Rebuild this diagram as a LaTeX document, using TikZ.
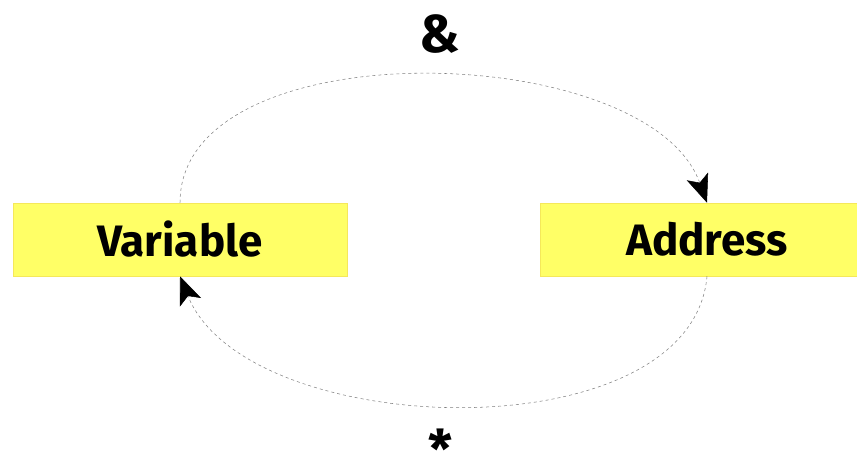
\documentclass[tikz,border=0pt]{standalone}
\usepackage{fontspec}
\setmainfont{Fira Sans}
\usetikzlibrary{arrows.meta}
\definecolor{boxyellow}{HTML}{FFFF66}
\definecolor{boxedge}{HTML}{F5E85A}
\begin{document}
\begin{tikzpicture}[x=0.75pt, y=0.75pt,
    box/.style={fill=boxyellow, draw=boxedge, line width=0.4pt,
      minimum width=250.5pt, minimum height=54.75pt, inner sep=0pt,
      font=\fontsize{33}{40}\selectfont\bfseries},
    link/.style={draw=gray, line width=0.4pt, dash pattern=on 2.25pt off 2.25pt,
      -{Stealth[length=21pt, width=17pt, inset=5pt, color=black]}},
    op/.style={inner sep=0pt, font=\fontsize{40}{48}\selectfont\bfseries}]
  \clip (0,0) rectangle (857,-463);

  % the two boxes
  \node[box] (var) at (180,-239.5) {Variable};
  \node[box] (addr) at (707,-239.5) {Address};

  % operators
  \node[op] (amp) at (440,-34) {\&};
  \node[op] (star) at (440,-449) {*};

  % round trip
  \draw[link] (var.north) to[out=90, in=110, looseness=0.85] (addr.north);
  \draw[link] (addr.south) to[out=265, in=292, looseness=0.87] (var.south);
\end{tikzpicture}
\end{document}
